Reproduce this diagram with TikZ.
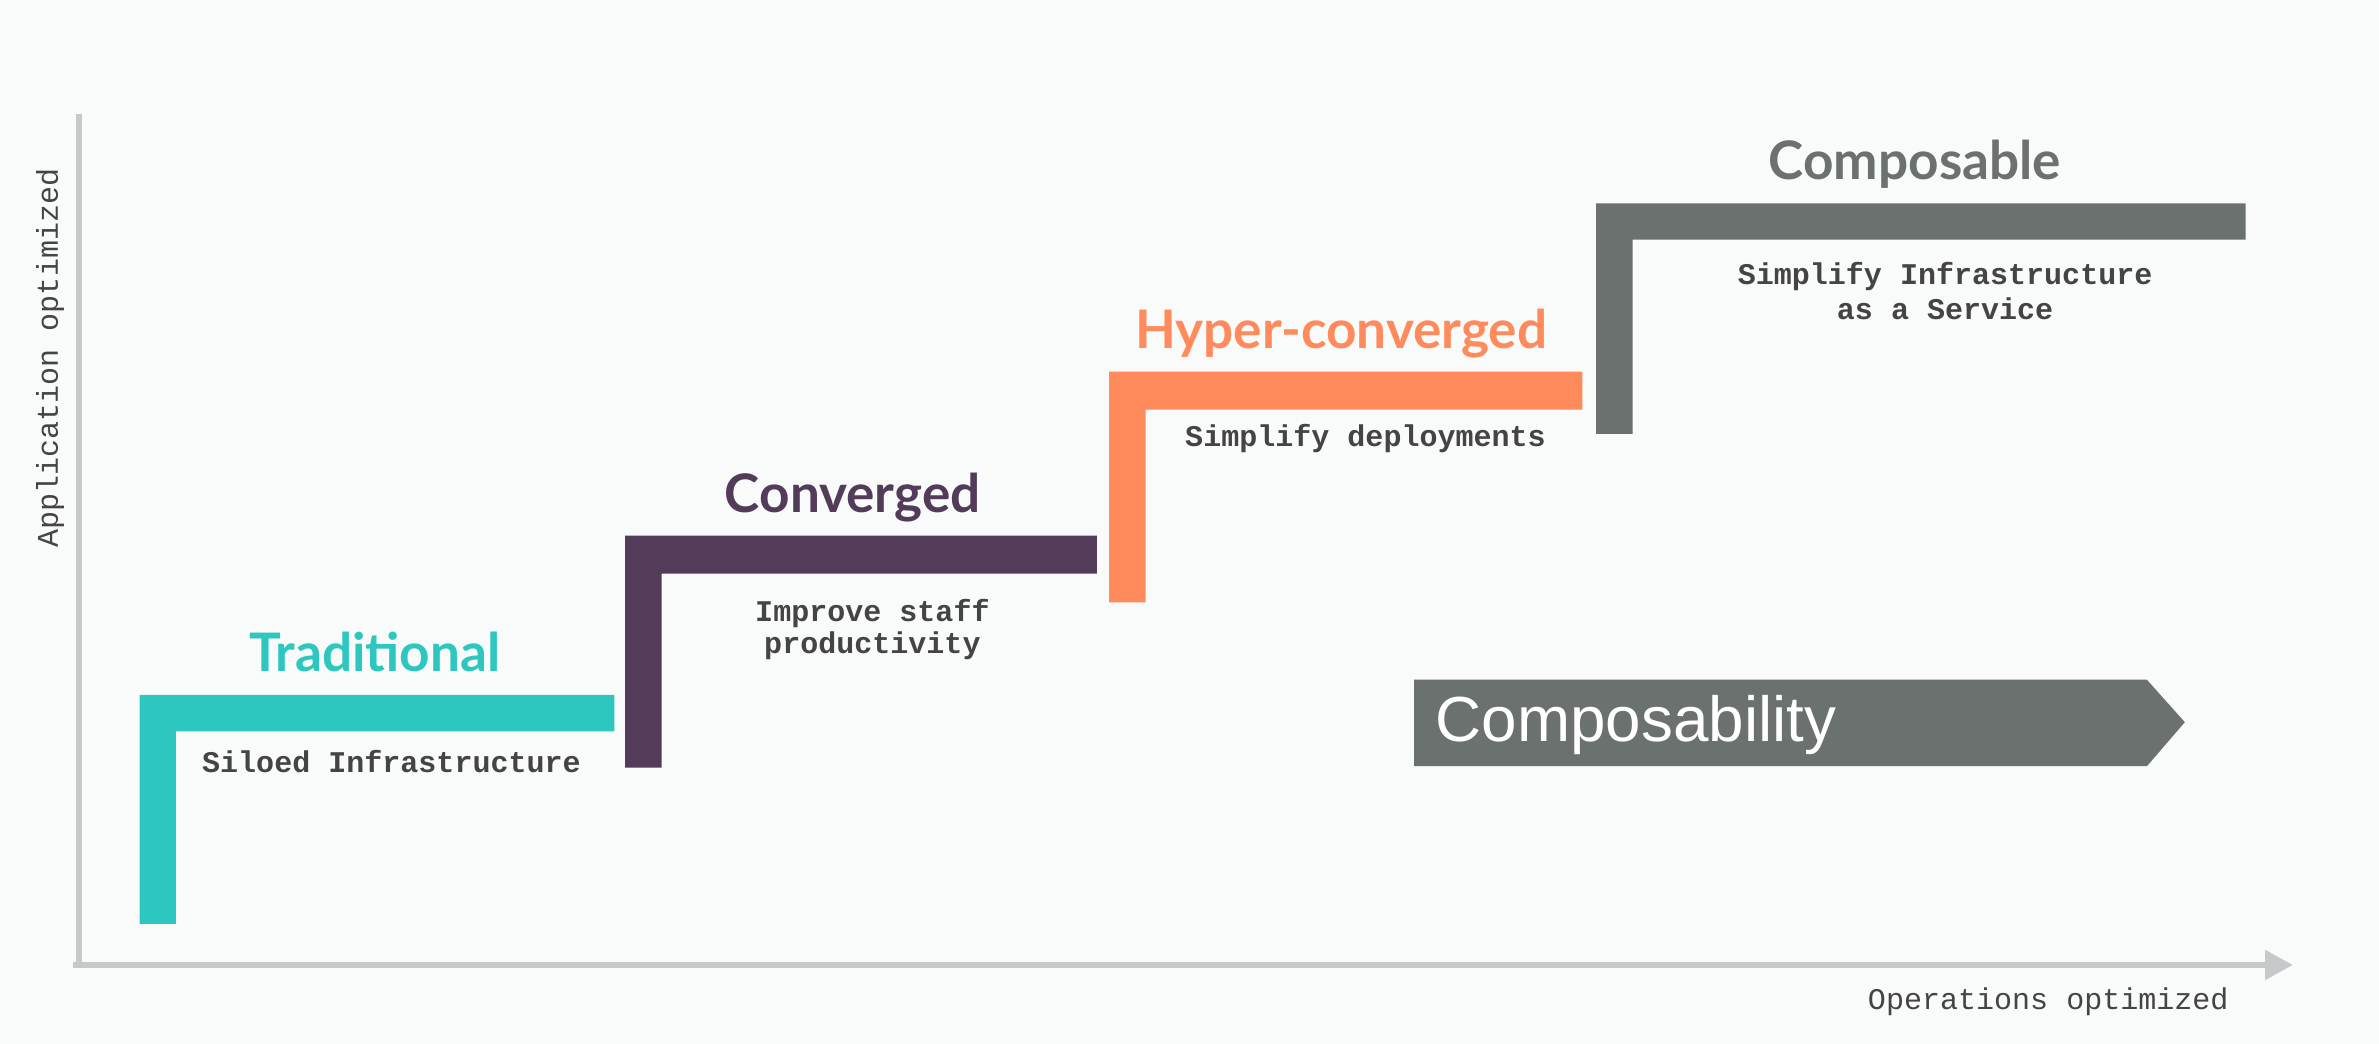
\documentclass[tikz,border=0pt]{standalone}
\usepackage{fontspec}
\setmainfont{Liberation Sans}
\newfontfamily\titlefont{Lato}
\newfontfamily\monofont{Liberation Mono}
\definecolor{bgc}{HTML}{F9FAFA}
\definecolor{axisc}{HTML}{C6C9C9}
\definecolor{tealc}{HTML}{2EC7BF}
\definecolor{purplec}{HTML}{523C5A}
\definecolor{orangec}{HTML}{FF8A5B}
\definecolor{grayc}{HTML}{6B716F}
\definecolor{textc}{HTML}{444444}
\tikzset{
  title/.style={font=\titlefont\bfseries\fontsize{17.5}{20}\selectfont, inner sep=0pt},
  mono/.style={font=\monofont\bfseries\fontsize{9.9}{11.5}\selectfont, text=textc, inner sep=0pt, align=center},
  axislabel/.style={font=\monofont\fontsize{9.9}{11.5}\selectfont, text=textc, inner sep=0pt},
  axisline/.style={draw=axisc, line width=2.2pt},
}
\begin{document}
\begin{tikzpicture}[x=0.5pt,y=-0.5pt]
\useasboundingbox (0,0) rectangle (1568,688);
\fill[bgc] (0,0) rectangle (1568,688);
% axes
\coordinate (ytop) at (52,75);
\coordinate (orig) at (52,636);
\coordinate (xstart) at (48,636);
\coordinate (xend) at (1493,636);
\draw[axisline] (ytop) -- (orig);
\draw[axisline] (xstart) -- (xend);
\fill[axisc] (1493,626) -- (1511,636) -- (1493,646) -- cycle;
\node[axislabel, rotate=90] (ylab) at (33,236) {Application optimized};
\node[axislabel] (xlab) at (1350,660) {Operations optimized};
% Traditional
\fill[tealc] (92,458) -- (405,458) -- (405,482) -- (116,482) -- (116,609) -- (92,609) -- cycle;
\node[title, text=tealc] (t1) at (247,430) {Traditional};
\node[mono] (d1) at (258,502) {Siloed Infrastructure};
% Converged
\fill[purplec] (412,353) -- (723,353) -- (723,378) -- (436,378) -- (436,506) -- (412,506) -- cycle;
\node[title, text=purplec] (t2) at (562,328) {Converged};
\node[mono, font=\monofont\bfseries\fontsize{9.9}{10.5}\selectfont] (d2) at (575,415) {Improve staff\\productivity};
% Hyper-converged
\fill[orangec] (731,245) -- (1043,245) -- (1043,270) -- (755,270) -- (755,397) -- (731,397) -- cycle;
\node[title, text=orangec] (t3) at (884,220) {Hyper-converged};
\node[mono] (d3) at (900,289) {Simplify deployments};
% Composable
\fill[grayc] (1052,134) -- (1480,134) -- (1480,158) -- (1076,158) -- (1076,286) -- (1052,286) -- cycle;
\node[title, text=grayc] (t4) at (1262,108) {Composable};
\node[mono] (d4) at (1282,192) {Simplify Infrastructure\\as a Service};
% Composability arrow
\fill[grayc] (932,448) -- (1415,448) -- (1440,476) -- (1415,505) -- (932,505) -- cycle;
\node[anchor=west, text=white, font=\fontsize{21}{24}\selectfont, inner sep=0pt] (cb) at (946,478) {Composability};
\end{tikzpicture}
\end{document}
